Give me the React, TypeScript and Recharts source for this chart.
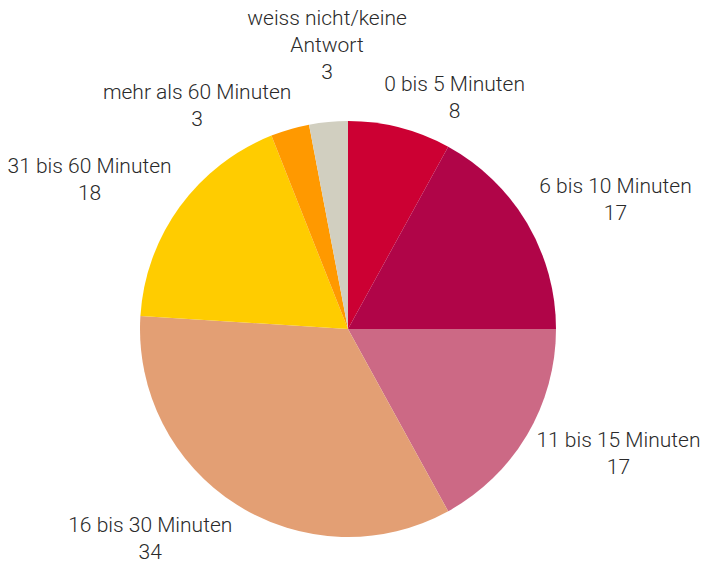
import React from "react";
import { PieChart, Pie, Cell } from "recharts";

const categories = [
  "0 bis 5 Minuten",
  "6 bis 10 Minuten",
  "11 bis 15 Minuten",
  "16 bis 30 Minuten",
  "31 bis 60 Minuten",
  "mehr als 60 Minuten",
  "weiss nicht/keine Antwort",
];
const values = [8, 17, 17, 34, 18, 3, 3];
const colors = [
  "#cc0033",
  "#b00548",
  "#cc6985",
  "#e39f74",
  "#ffcc00",
  "#ff9900",
  "#d1cfc0",
];

// small per-label nudges so labels sit like in the original layout
const labelNudge: [number, number][] = [
  [10, 15],
  [-3, 0],
  [0, -5],
  [-17, -6],
  [-2, 0],
  [-45, 21],
  [25, -17],
];

const LINE = 27;

const wrap = (name: string): string[] => {
  if (name.length <= 20) return [name];
  const i = name.lastIndexOf(" ");
  return [name.slice(0, i), name.slice(i + 1)];
};

const renderLabel = (props: any) => {
  const { cx, cy, midAngle, outerRadius, index } = props;
  const rad = (midAngle * Math.PI) / 180;
  const sx = Math.cos(rad);
  const sy = Math.sin(rad);
  const lines = [...wrap(categories[index]), String(values[index])];
  const h = lines.length * LINE;
  const x =
    cx +
    (outerRadius + 20) * sx +
    80 * Math.sign(sx) * Math.sqrt(Math.abs(sx)) +
    labelNudge[index][0];
  const yc = cy - (outerRadius + 20) * sy - (h / 2) * sy + labelNudge[index][1];
  const y0 = yc - ((lines.length - 1) / 2) * LINE;
  return (
    <text
      x={x}
      y={y0}
      textAnchor="middle"
      dominantBaseline="central"
      fill="#2a2a2a"
      fontSize={21}
      fontWeight={300}
      fontFamily="Roboto, 'Liberation Sans', Arial, sans-serif"
    >
      {lines.map((l, i) => (
        <tspan key={i} x={x} y={y0 + i * LINE}>
          {l}
        </tspan>
      ))}
    </text>
  );
};

const data = categories.map((name, i) => ({ name, value: values[i] }));

export default function App() {
  return (
    <div style={{ position: "absolute", left: 0, top: 0, background: "#fff" }}>
      <PieChart
        width={701}
        height={563}
        margin={{ top: 0, right: 0, bottom: 0, left: 0 }}
      >
        <Pie
          data={data}
          dataKey="value"
          nameKey="name"
          cx={348}
          cy={329}
          outerRadius={208}
          startAngle={90}
          endAngle={-270}
          stroke="none"
          label={renderLabel}
          labelLine={false}
          isAnimationActive={false}
        >
          {data.map((entry, index) => (
            <Cell key={`cell-${index}`} fill={colors[index]} />
          ))}
        </Pie>
      </PieChart>
    </div>
  );
}
